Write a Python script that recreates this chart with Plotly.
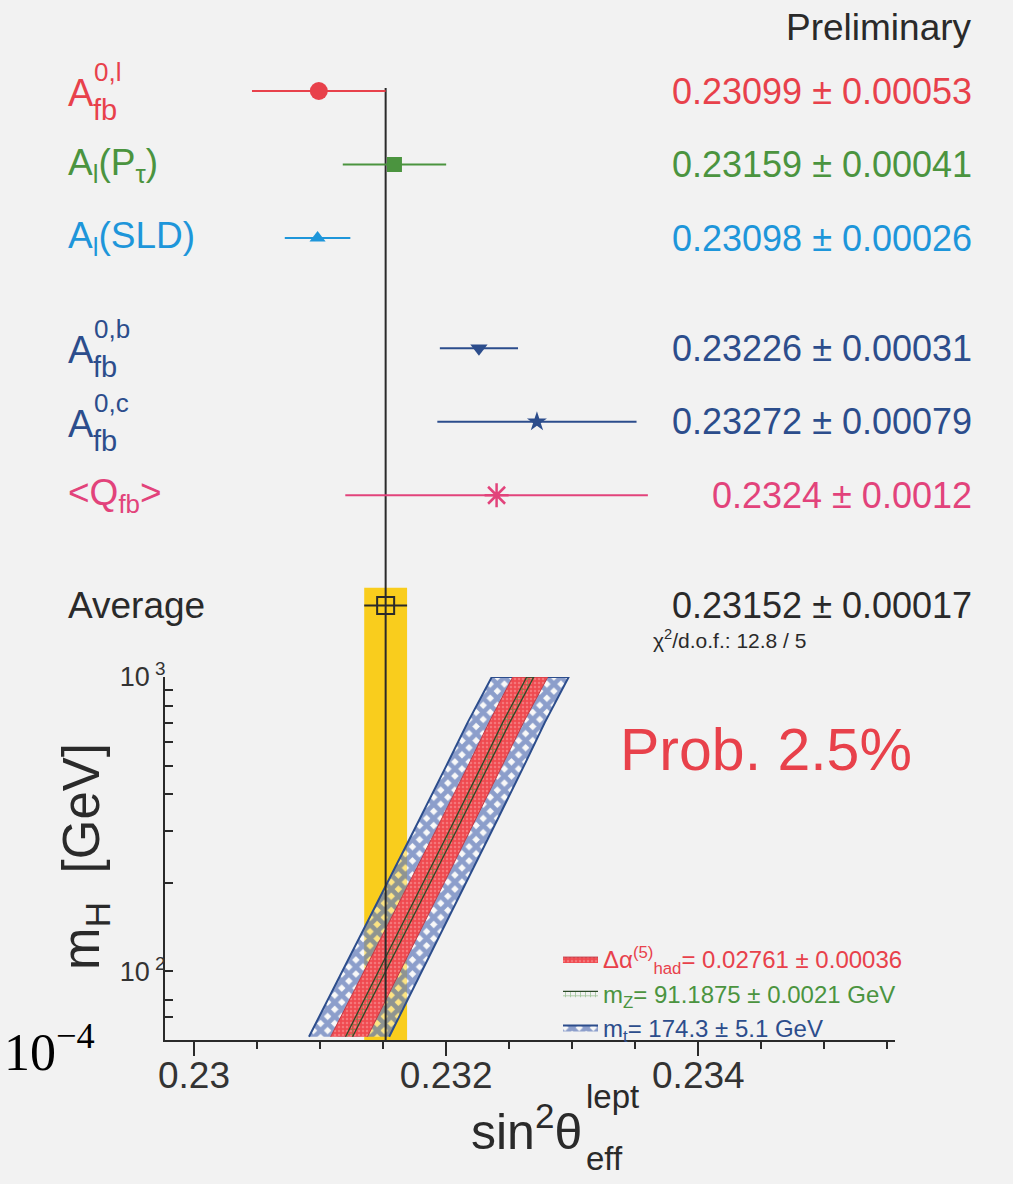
import math
import plotly.graph_objects as go

# ---------------- data ----------------
labels = ["A_fb^{0,l}", "A_l(P_tau)", "A_l(SLD)", "A_fb^{0,b}", "A_fb^{0,c}", "<Q_fb>", "Average"]
values = [0.23099, 0.23159, 0.23098, 0.23226, 0.23272, 0.2324, 0.23152]
errors = [0.00053, 0.00041, 0.00026, 0.00031, 0.00079, 0.0012, 0.00017]
value_text = ["0.23099 \u00b1 0.00053", "0.23159 \u00b1 0.00041", "0.23098 \u00b1 0.00026",
              "0.23226 \u00b1 0.00031", "0.23272 \u00b1 0.00079", "0.2324 \u00b1 0.0012",
              "0.23152 \u00b1 0.00017"]
groups = [0, 0, 0, 1, 1, 1, 2]   # leptonic / hadronic / average

chi2_text = "\u03c7<sup>2</sup>/d.o.f.: 12.8 / 5"
prob_text = "Prob. 2.5%"

# SM prediction band vs m_H
mh = [60, 100, 200, 300, 500, 700, 1000]
sm_center = [0.231230, 0.231492, 0.231846, 0.232052, 0.232310, 0.232476, 0.232667]
hw_alpha = [0.000146, 0.000143, 0.000138, 0.000136, 0.000136, 0.000137, 0.000139]
hw_mt = [0.000318, 0.000315, 0.000312, 0.000310, 0.000308, 0.000306, 0.000305]
hw_mz = [0.000028, 0.000028, 0.000028, 0.000028, 0.000028, 0.000028, 0.000028]

legend_text = ["\u0394\u03b1<sup>(5)</sup><sub>had</sub>= 0.02761 \u00b1 0.00036",
               "m<sub>Z</sub>= 91.1875 \u00b1 0.0021 GeV",
               "m<sub>t</sub>= 174.3 \u00b1 5.1 GeV"]

x_ticks = [0.23, 0.232, 0.234]
x_ticktext = ["0.23", "0.232", "0.234"]
y_ticks = [70, 80, 100, 200, 300, 400, 500, 600, 700, 800, 900, 1000]
y_ticktext = ["", "", "10<sup> 2</sup>", "", "", "", "", "", "", "", "", "10<sup> 3</sup>"]

# ---------------- styles ----------------
FONT = "Liberation Sans, Arial, Helvetica, sans-serif"
RED = "#e8414b"
GREEN = "#4b943f"
LBLUE = "#1e96da"
DBLUE = "#2c4d8c"
PINK = "#e2437b"
BLACK = "#2a2a2a"
YELLOW = "#f9cd1d"
BG = "#f2f2f2"
colors = [RED, GREEN, LBLUE, DBLUE, DBLUE, PINK, BLACK]
symbols = ["circle", "square", "triangle-up", "triangle-down", "star", "asterisk-open", "square-open"]
msizes = [18, 15, 14, 15, 15, 20, 17]

# row positions from groups (extra gap between groups)
row_pos = []
p = 0.0
for i, g in enumerate(groups):
    if i > 0:
        p += 1.5 if g != groups[i - 1] else 1.0
    row_pos.append(p)

avg_v, avg_e, avg_pos = values[-1], errors[-1], row_pos[-1]

fig = go.Figure()

# ---------------- SM bands (lower panel) ----------------
def band(hw):
    xs = [c - h for c, h in zip(sm_center, hw)] + [c + h for c, h in zip(sm_center, hw)][::-1]
    ys = mh + mh[::-1]
    return xs, ys

bx, by = band(hw_mt)
fig.add_trace(go.Scatter(x=bx, y=by, fill="toself", mode="lines",
                         line=dict(color=DBLUE, width=2),
                         fillcolor="rgba(0,0,0,0)",
                         fillpattern=dict(shape="x", fgcolor="#2146a0", bgcolor="rgba(255,255,255,0.45)",
                                          size=10, solidity=0.72),
                         name='<span style="color:%s">%s</span>' % (DBLUE, legend_text[2]),
                         legendrank=3, xaxis="x", yaxis="y", hoverinfo="skip"))
rx, ry = band(hw_alpha)
fig.add_trace(go.Scatter(x=rx, y=ry, fill="toself", mode="lines",
                         line=dict(color="#c23a45", width=1),
                         fillcolor="#ef4f55",
                         fillpattern=dict(shape=".", fgcolor="#f8a3a3", bgcolor="#ef4a50",
                                          size=4, solidity=0.3),
                         name='<span style="color:%s">%s</span>' % (RED, legend_text[0]),
                         legendrank=1, xaxis="x", yaxis="y", hoverinfo="skip"))
gx, gy = band(hw_mz)
fig.add_trace(go.Scatter(x=gx, y=gy, fill="toself", mode="lines",
                         line=dict(color="#2c4a28", width=1.3),
                         fillcolor="rgba(0,0,0,0)",
                         fillpattern=dict(shape="+", fgcolor=GREEN, bgcolor="rgba(0,0,0,0)",
                                          size=5, solidity=0.3),
                         name='<span style="color:%s">%s</span>' % (GREEN, legend_text[1]),
                         legendrank=2, xaxis="x", yaxis="y", hoverinfo="skip"))

# ---------------- measurements (upper panel) ----------------
for i in range(len(values)):
    if symbols[i] == "asterisk-open":
        mline = dict(color=colors[i], width=2.5)
    elif symbols[i] == "square-open":
        mline = dict(color=colors[i], width=2)
    else:
        mline = dict(width=0)
    fig.add_trace(go.Scatter(
        x=[values[i]], y=[row_pos[i]], mode="markers",
        marker=dict(symbol=symbols[i], size=msizes[i], color=colors[i], line=mline),
        error_x=dict(type="data", array=[errors[i]], color=colors[i], thickness=2, width=0),
        xaxis="x", yaxis="y2", showlegend=False, hoverinfo="skip"))

# ---------------- layout geometry ----------------
W, H = 1013, 1184
ML, MR, MT, MB = 165, 118, 20, 144
PW, PH = W - ML - MR, H - MT - MB
low_top_px = 677
split = (H - MB - low_top_px) / PH
row_px = 73.5
row0_px = 91
y2_top = (MT - row0_px) / row_px
y2_bot = (low_top_px - row0_px) / row_px


def px_x(px):
    return (px - ML) / PW


def px_y(px):
    return (H - MB - px) / PH


shapes = [
    dict(type="rect", xref="x", yref="y2", x0=avg_v - avg_e, x1=avg_v + avg_e,
         y0=avg_pos - 0.24, y1=y2_bot, fillcolor=YELLOW, line=dict(width=0), layer="below"),
    dict(type="rect", xref="x", yref="y domain", x0=avg_v - avg_e, x1=avg_v + avg_e,
         y0=0, y1=1, fillcolor=YELLOW, line=dict(width=0), layer="below"),
    dict(type="line", xref="x", yref="y2", x0=avg_v, x1=avg_v, y0=row_pos[0] - 0.04, y1=y2_bot,
         line=dict(color=BLACK, width=2), layer="below"),
    dict(type="line", xref="x", yref="y domain", x0=avg_v, x1=avg_v, y0=0, y1=1,
         line=dict(color=BLACK, width=2), layer="above"),
]

ann = []
BIG = 37


def lab(text, i, color, dx=0, yshift=0, size=BIG, anchor="left"):
    ann.append(dict(text=text, xref="paper", yref="y2", x=px_x(66 + dx), y=row_pos[i],
                    yshift=yshift, xanchor=anchor, yanchor="middle", showarrow=False,
                    font=dict(family=FONT, size=size, color=color)))


for i, sup in [(0, "0,l"), (3, "0,b"), (4, "0,c")]:
    lab("A", i, colors[i], yshift=-2, size=38)
    lab("fb", i, colors[i], dx=25, yshift=-19, size=29)
    lab(sup, i, colors[i], dx=26, yshift=19, size=26)
lab("A<sub>l</sub>(P<sub>\u03c4</sub>)", 1, GREEN)
lab("A<sub>l</sub>(SLD)", 2, LBLUE)
lab("&lt;Q<sub>fb</sub>&gt;", 5, PINK)
lab("Average", 6, BLACK, size=37)

# right values
for i in range(len(values)):
    ann.append(dict(text=value_text[i], xref="paper", yref="y2", x=px_x(974), y=row_pos[i],
                    xanchor="right", yanchor="middle", showarrow=False,
                    font=dict(family=FONT, size=36, color=colors[i])))

ann.append(dict(text=chi2_text, xref="paper", yref="y2", x=px_x(651), y=avg_pos, yshift=-33,
                xanchor="left", yanchor="middle", showarrow=False,
                font=dict(family=FONT, size=21, color=BLACK)))
ann.append(dict(text="Preliminary", xref="paper", yref="paper", x=px_x(974), y=px_y(28),
                xanchor="right", yanchor="middle", showarrow=False,
                font=dict(family=FONT, size=37, color=BLACK)))
ann.append(dict(text=prob_text, xref="paper", yref="paper", x=px_x(766), y=px_y(750),
                xanchor="center", yanchor="middle", showarrow=False,
                font=dict(family=FONT, size=59, color=RED)))
# x axis title
ann.append(dict(text="sin<sup>2</sup>\u03b8", xref="paper", yref="paper", x=px_x(584), y=px_y(1128),
                xanchor="right", yanchor="middle", showarrow=False,
                font=dict(family=FONT, size=50, color=BLACK)))
ann.append(dict(text="lept", xref="paper", yref="paper", x=px_x(584), y=px_y(1096),
                xanchor="left", yanchor="middle", showarrow=False,
                font=dict(family=FONT, size=33, color=BLACK)))
ann.append(dict(text="eff", xref="paper", yref="paper", x=px_x(584), y=px_y(1158),
                xanchor="left", yanchor="middle", showarrow=False,
                font=dict(family=FONT, size=33, color=BLACK)))
# y axis title
ann.append(dict(text="m<sub>H</sub>\u00a0\u00a0[GeV]", xref="paper", yref="paper", x=px_x(85), y=px_y(857),
                xanchor="center", yanchor="middle", textangle=-90, showarrow=False,
                font=dict(family=FONT, size=51, color=BLACK)))
# stray offset label
ann.append(dict(text="10<sup>\u22124</sup>", xref="paper", yref="paper", x=px_x(2), y=px_y(1048),
                xanchor="left", yanchor="middle", showarrow=False,
                font=dict(family="Liberation Serif, Times New Roman, serif", size=52, color="black")))

fig.update_layout(
    width=W, height=H, autosize=False,
    margin=dict(l=ML, r=MR, t=MT, b=MB, autoexpand=False),
    paper_bgcolor=BG, plot_bgcolor=BG,
    font=dict(family=FONT, color=BLACK),
    showlegend=True,
    legend=dict(x=px_x(558), y=px_y(937), xanchor="left", yanchor="top",
                bgcolor="rgba(0,0,0,0)", font=dict(family=FONT, size=24),
                tracegroupgap=0, itemwidth=35),
    xaxis=dict(range=[0.22977, 0.23556], domain=[0, 1], anchor="y",
               showline=True, linecolor=BLACK, linewidth=2, showgrid=False, zeroline=False,
               tickmode="array", tickvals=x_ticks, ticktext=x_ticktext,
               ticks="outside", ticklen=14, tickwidth=2, tickcolor=BLACK,
               ticklabelstandoff=-12,
               tickfont=dict(family=FONT, size=37, color="#333"),
               minor=dict(tickmode="linear", tick0=0.23, dtick=0.0005, ticks="outside",
                          ticklen=7, tickwidth=1.5, tickcolor=BLACK, showgrid=False)),
    yaxis=dict(type="log", range=[math.log10(58.5), 3], domain=[0, split], anchor="x",
               showline=True, linecolor=BLACK, linewidth=2, showgrid=False, zeroline=False,
               tickmode="array", tickvals=y_ticks, ticktext=y_ticktext,
               ticks="inside", ticklen=8, tickwidth=1.5, tickcolor=BLACK,
               ticklabelstandoff=-8,
               tickfont=dict(family=FONT, size=27, color="#333")),
    yaxis2=dict(range=[y2_bot, y2_top], domain=[split, 1], anchor="x", visible=False),
    shapes=shapes, annotations=ann,
)

fig.write_html("out.html", config={"displayModeBar": False},
               post_script="document.body.style.margin='0px';")
